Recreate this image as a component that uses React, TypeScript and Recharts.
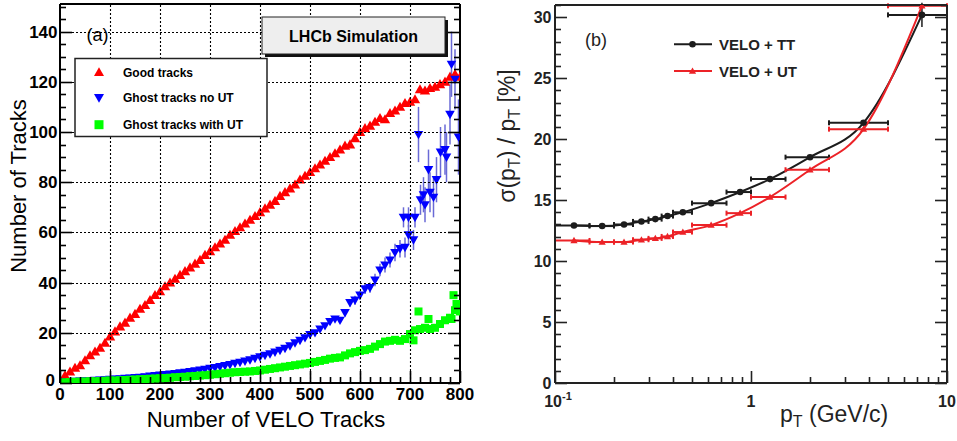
import React from "react";
import { ComposedChart, Scatter, Line, XAxis, YAxis, ErrorBar } from "recharts";

const FONT = '"Liberation Sans", Arial, Helvetica, sans-serif';

// ---------- panel (a): number of tracks vs number of VELO tracks ----------
const veloTracks = [
  10, 20, 30, 40, 50, 60, 70, 80, 90, 100, 110, 120, 130, 140, 150, 160, 170, 180, 190, 200,
  210, 220, 230, 240, 250, 260, 270, 280, 290, 300, 310, 320, 330, 340, 350, 360, 370, 380, 390, 400,
  410, 420, 430, 440, 450, 460, 470, 480, 490, 500, 510, 520, 530, 540, 550, 560, 570, 580, 590, 600,
  610, 620, 630, 640, 650, 660, 670, 680, 690, 700, 710, 720, 730, 740, 750, 760, 770, 780, 790, 800,
];
const goodTracks = [
  3, 4.5, 6, 7, 9, 11, 12.5, 14, 16, 18.5, 20.5, 22.5, 24, 26, 27.5, 29.5, 31, 33, 35, 36.5,
  38.5, 40, 41.5, 43, 44.5, 46, 47.5, 49, 51, 52.5, 54, 55.5, 57, 59, 60.5, 62, 63.5, 65, 66.5, 68,
  69.5, 71, 72.5, 74.5, 76, 77.5, 79, 81, 82.5, 84, 85.5, 87, 88.5, 90, 91.5, 93, 94.5, 95, 97.5, 100,
  101.5, 102.5, 104, 105.5, 105, 107.5, 108.5, 110, 111.5, 112, 113, 117, 116.5, 117.5, 118, 119, 120, 122, 123, 122,
];
// ghost tracks without UT: regular part (first 69 VELO bins) + scattered tail
const ghostNoUt = [
  0.5, 0.6, 0.7, 0.8, 0.9, 1.0, 1.1, 1.2, 1.3, 1.5, 1.6, 1.7, 1.9, 2.0, 2.2, 2.3, 2.5, 2.7, 2.9, 3.1,
  3.3, 3.5, 3.7, 4.0, 4.2, 4.5, 4.8, 5.1, 5.4, 5.8, 6.1, 6.5, 6.9, 7.3, 7.8, 8.2, 8.7, 9.2, 9.8, 10.4,
  11, 11.6, 12.3, 13, 13.8, 14.8, 16, 17, 18, 19.3, 20, 21.5, 22.8, 24.5, 25.5, 25, 28, 32, 33, 35,
  37.5, 38, 41, 45, 47, 49, 52, 53.5, 54,
];
const ghostNoUtErr = [
  0.2, 0.2, 0.2, 0.2, 0.2, 0.2, 0.2, 0.2, 0.2, 0.2, 0.2, 0.2, 0.2, 0.2, 0.2, 0.2, 0.2, 0.2, 0.2, 0.2,
  0.2, 0.2, 0.2, 0.2, 0.2, 0.2, 0.2, 0.2, 0.2, 0.2, 0.4, 0.4, 0.4, 0.4, 0.4, 0.4, 0.4, 0.4, 0.4, 0.4,
  0.4, 0.4, 0.4, 0.4, 0.4, 0.4, 0.4, 0.4, 0.4, 0.4, 0.8, 1, 1, 1.2, 1.2, 1.2, 1.5, 1.5, 1.8, 1.8,
  2, 2, 2.5, 2.5, 3, 3, 3.5, 3.5, 4,
];
const ghostNoUtTailX = [687, 697, 697, 707, 710, 717, 721, 727, 730, 737, 740, 747, 753, 761, 770, 773, 780, 783, 790, 797];
const ghostNoUtTailY = [66, 66, 59, 57, 66, 99, 73, 75, 71, 85, 76, 74, 81, 92, 93, 90, 107, 127, 121, 98];
const ghostNoUtTailErr = [4, 4, 4, 4, 4, 11, 6, 7, 7, 8, 8, 8, 9, 10, 10, 10, 12, 13, 12, 15];

const ghostWithUt = [
  0.3, 0.4, 0.5, 0.5, 0.6, 0.7, 0.7, 0.8, 0.9, 1.0, 1.0, 1.1, 1.2, 1.3, 1.4, 1.5, 1.6, 1.7, 1.8, 1.9,
  2.0, 2.1, 2.3, 2.4, 2.5, 2.7, 2.8, 3.0, 3.1, 3.3, 3.5, 3.7, 3.9, 4.1, 4.3, 4.4, 4.5, 4.6, 4.8, 5.0,
  5.3, 5.6, 5.9, 6.2, 6.5, 6.8, 7.1, 7.4, 7.7, 8.0, 8.4, 8.8, 9.2, 9.7, 10.0, 10.2, 11, 11.8, 12.3, 12.8,
  13.1, 13.6, 14.5, 15.5, 16.5, 16.8, 17.2, 16.8, 17.5, 19.5, 21, 21.5, 22, 21.5, 22, 23.5, 25, 26, 29, 28.5,
];
const ghostWithUtExtraX = [707, 717, 737, 783, 787, 793];
const ghostWithUtExtraY = [17, 28.5, 25.5, 25.5, 35, 31.5];

const aXTicks = [
  0, 20, 40, 60, 80, 100, 120, 140, 160, 180, 200, 220, 240, 260, 280, 300, 320, 340, 360, 380, 400,
  420, 440, 460, 480, 500, 520, 540, 560, 580, 600, 620, 640, 660, 680, 700, 720, 740, 760, 780, 800,
];
const aXMajor = [0, 100, 200, 300, 400, 500, 600, 700, 800];
const aYTicks = [
  0, 5, 10, 15, 20, 25, 30, 35, 40, 45, 50, 55, 60, 65, 70, 75, 80, 85, 90, 95, 100,
  105, 110, 115, 120, 125, 130, 135, 140, 145, 150,
];
const aYMajor = [0, 20, 40, 60, 80, 100, 120, 140];
const aXGrid = [100, 200, 300, 400, 500, 600, 700];
const aYGrid = [20, 40, 60, 80, 100, 120, 140];

// ---------- panel (b): pT resolution vs pT ----------
const ptCenter = [0.125, 0.174, 0.225, 0.276, 0.325, 0.375, 0.449, 0.626, 0.88, 1.25, 2.0, 3.75, 7.45];
const ptBinLow = [0.1, 0.15, 0.2, 0.25, 0.3, 0.35, 0.4, 0.5, 0.75, 1, 1.5, 2.5, 5];
const ptBinHigh = [0.15, 0.2, 0.25, 0.3, 0.35, 0.4, 0.5, 0.75, 1, 1.5, 2.5, 5, 10];
const resVeloTT = [12.92, 12.87, 13.0, 13.25, 13.44, 13.69, 14.0, 14.75, 15.66, 16.72, 18.52, 21.34, 30.19];
const resVeloTTErr = [0, 0, 0, 0, 0, 0, 0, 0, 0, 0, 0, 0, 1.0];
const resVeloUT = [11.69, 11.56, 11.56, 11.75, 11.86, 12.02, 12.38, 12.95, 13.93, 15.25, 17.49, 20.82, 30.93];

const bXTicks = [0.1, 0.2, 0.3, 0.4, 0.5, 0.6, 0.7, 0.8, 0.9, 1, 2, 3, 4, 5, 6, 7, 8, 9, 10];
const bXMajor = [0.1, 1, 10];
const bYTicks = [
  0, 1, 2, 3, 4, 5, 6, 7, 8, 9, 10, 11, 12, 13, 14, 15, 16, 17, 18, 19, 20,
  21, 22, 23, 24, 25, 26, 27, 28, 29, 30, 31,
];
const bYMajor = [0, 5, 10, 15, 20, 25, 30];

const RED_A = "#ff0000";
const BLUE_A = "#0000ff";
const GREEN_A = "#00ff00";
const BLACK_B = "#1c1c1c";
const RED_B = "#ec2227";

// plot box of panel (a), used only for the dotted grid drawn from the tick marks
const PLOT_A_W = 400;
const PLOT_A_H = 379;

const goodData = veloTracks.map((x, i) => ({ x, y: goodTracks[i] }));
const ghostNoUtData = [
  ...ghostNoUt.map((y, i) => ({ x: veloTracks[i], y, err: ghostNoUtErr[i] })),
  ...ghostNoUtTailX.map((x, i) => ({ x, y: ghostNoUtTailY[i], err: ghostNoUtTailErr[i] })),
];
const ghostWithUtData = [
  ...ghostWithUt.map((y, i) => ({ x: veloTracks[i], y })),
  ...ghostWithUtExtraX.map((x, i) => ({ x, y: ghostWithUtExtraY[i] })),
];
const ttData = ptCenter.map((x, i) => ({
  x,
  y: resVeloTT[i],
  ex: [x - ptBinLow[i], ptBinHigh[i] - x],
  ey: resVeloTTErr[i],
}));
const utData = ptCenter.map((x, i) => ({
  x,
  y: resVeloUT[i],
  ex: [x - ptBinLow[i], ptBinHigh[i] - x],
}));

// ---------- marker shapes ----------
const triUp = (color: string, s: number) => (p: any) => (
  <polygon
    points={`${p.cx},${p.cy - s} ${p.cx - s},${p.cy + s * 0.75} ${p.cx + s},${p.cy + s * 0.75}`}
    fill={color}
  />
);
const triDown = (color: string, s: number) => (p: any) => (
  <polygon
    points={`${p.cx},${p.cy + s} ${p.cx - s},${p.cy - s * 0.75} ${p.cx + s},${p.cy - s * 0.75}`}
    fill={color}
  />
);
const square = (color: string, s: number) => (p: any) => (
  <rect x={p.cx - s} y={p.cy - s} width={2 * s} height={2 * s} fill={color} />
);
const dot = (color: string, r: number) => (p: any) => <circle cx={p.cx} cy={p.cy} r={r} fill={color} />;

// ---------- inward ROOT-style ticks (optionally with a dotted grid line) ----------
type Side = "bottom" | "top" | "left" | "right";
type TickOpts = {
  side: Side;
  major: number[];
  majorLen: number;
  minorLen: number;
  stroke: string;
  label?: (v: number, x: number, y: number) => React.ReactNode;
  grid?: number[];
  gridLen?: number;
};
const crisp = (v: number) => Math.round(v) + 0.5;
const makeTick = (o: TickOpts) => (props: any) => {
  const { x, y, payload } = props;
  const v = payload.value as number;
  const isMajor = o.major.includes(v);
  const len = isMajor ? o.majorLen : o.minorLen;
  const vertical = o.side === "bottom" || o.side === "top";
  const cx = vertical ? crisp(x) : x;
  const cy = vertical ? y : crisp(y);
  let x2 = cx;
  let y2 = cy;
  if (o.side === "bottom") y2 = cy - len;
  else if (o.side === "top") y2 = cy + len;
  else if (o.side === "left") x2 = cx + len;
  else x2 = cx - len;
  const showGrid = !!(o.grid && o.grid.includes(v) && o.gridLen);
  const g = o.gridLen || 0;
  return (
    <g>
      {showGrid && vertical ? (
        <line x1={cx} y1={cy} x2={cx} y2={cy - g} stroke="#000" strokeWidth={1.1} strokeDasharray="2 2" />
      ) : null}
      {showGrid && !vertical ? (
        <line x1={cx} y1={cy} x2={cx + g} y2={cy} stroke="#000" strokeWidth={1.1} strokeDasharray="2 2" />
      ) : null}
      <line x1={cx} y1={cy} x2={x2} y2={y2} stroke={o.stroke} strokeWidth={1.6} />
      {isMajor && o.label ? o.label(v, x, y) : null}
    </g>
  );
};

const aXLabel = (v: number, x: number, y: number) => (
  <text x={x} y={y + 16.5} textAnchor="middle" fontFamily={FONT} fontWeight="bold" fontSize={17} fill="#000">
    {v}
  </text>
);
const aYLabel = (v: number, x: number, y: number) => (
  <text x={x - (v === 0 ? 5 : 2.5)} y={y + (v === 0 ? 3 : 6)} textAnchor="end" fontFamily={FONT} fontWeight="bold" fontSize={17} fill="#000">
    {v}
  </text>
);
const bXLabel = (v: number, x: number, y: number) =>
  v === 0.1 ? (
    <text x={x + 3} y={y + 24} textAnchor="middle" fontFamily={FONT} fontWeight="bold" fontSize={16} fill="#222">
      10
      <tspan fontSize={11} dy={-7}>-1</tspan>
    </text>
  ) : (
    <text x={x} y={y + 24} textAnchor="middle" fontFamily={FONT} fontWeight="bold" fontSize={16} fill="#222">
      {v}
    </text>
  );
const bYLabel = (v: number, x: number, y: number) => (
  <text x={x - 3.5} y={y + 5.8} textAnchor="end" fontFamily={FONT} fontWeight="bold" fontSize={16} fill="#222">
    {v}
  </text>
);

const axisA = { stroke: "#000", strokeWidth: 2 };
const axisB = { stroke: "#222", strokeWidth: 2 };

function PanelA() {
  return (
    <ComposedChart width={480} height={441} margin={{ top: 3, right: 0, bottom: 0, left: 0 }}>
      <XAxis
        dataKey="x" type="number" domain={[0, 800]} allowDataOverflow ticks={aXTicks} interval={0}
        height={58} tickSize={0} tickMargin={0} tickLine={false} axisLine={axisA}
        tick={makeTick({ side: "bottom", major: aXMajor, majorLen: 12, minorLen: 6, stroke: "#000", label: aXLabel, grid: aXGrid, gridLen: PLOT_A_H })}
      />
      <XAxis
        xAxisId="top" orientation="top" type="number" domain={[0, 800]} allowDataOverflow ticks={aXTicks}
        interval={0} height={1} tickSize={0} tickMargin={0} tickLine={false} axisLine={axisA}
        tick={makeTick({ side: "top", major: aXMajor, majorLen: 12, minorLen: 6, stroke: "#000" })}
      />
      <YAxis
        dataKey="y" type="number" domain={[0, 151]} allowDataOverflow ticks={aYTicks} interval={0}
        width={60} tickSize={0} tickMargin={0} tickLine={false} axisLine={axisA}
        tick={makeTick({ side: "left", major: aYMajor, majorLen: 12, minorLen: 6, stroke: "#000", label: aYLabel, grid: aYGrid, gridLen: PLOT_A_W })}
      />
      <YAxis
        yAxisId="right" orientation="right" type="number" domain={[0, 151]} allowDataOverflow ticks={aYTicks}
        interval={0} width={20} tickSize={0} tickMargin={0} tickLine={false} axisLine={axisA}
        tick={makeTick({ side: "right", major: aYMajor, majorLen: 12, minorLen: 6, stroke: "#000" })}
      />
      <Scatter data={goodData} dataKey="y" shape={triUp(RED_A, 5.2)} isAnimationActive={false} />
      <Scatter data={ghostNoUtData} dataKey="y" shape={triDown(BLUE_A, 4.8)} isAnimationActive={false}>
        <ErrorBar dataKey="err" direction="y" stroke="#6a6ad6" strokeWidth={1.5} width={0} isAnimationActive={false} />
      </Scatter>
      <Scatter data={ghostWithUtData} dataKey="y" shape={square(GREEN_A, 4)} isAnimationActive={false} />
    </ComposedChart>
  );
}

function PanelB() {
  return (
    <ComposedChart width={477} height={441} margin={{ top: 4, right: 9, bottom: 0, left: 0 }}>
      <XAxis
        dataKey="x" type="number" scale="log" domain={[0.1, 10]} allowDataOverflow ticks={bXTicks} interval={0}
        height={58} tickSize={0} tickMargin={0} tickLine={false} axisLine={axisB}
        tick={makeTick({ side: "bottom", major: bXMajor, majorLen: 12, minorLen: 6, stroke: "#222", label: bXLabel })}
      />
      <XAxis
        xAxisId="top" orientation="top" type="number" scale="log" domain={[0.1, 10]} allowDataOverflow
        ticks={bXTicks} interval={0} height={1} tickSize={0} tickMargin={0} tickLine={false} axisLine={axisB}
        tick={makeTick({ side: "top", major: bXMajor, majorLen: 12, minorLen: 6, stroke: "#222" })}
      />
      <YAxis
        dataKey="y" type="number" domain={[0, 31]} allowDataOverflow ticks={bYTicks} interval={0}
        width={75} tickSize={0} tickMargin={0} tickLine={false} axisLine={axisB}
        tick={makeTick({ side: "left", major: bYMajor, majorLen: 12, minorLen: 6, stroke: "#222", label: bYLabel })}
      />
      <YAxis
        yAxisId="right" orientation="right" type="number" domain={[0, 31]} allowDataOverflow ticks={bYTicks}
        interval={0} width={1} tickSize={0} tickMargin={0} tickLine={false} axisLine={axisB}
        tick={makeTick({ side: "right", major: bYMajor, majorLen: 12, minorLen: 6, stroke: "#222" })}
      />
      <Line data={ttData} dataKey="y" type="monotone" stroke={BLACK_B} strokeWidth={2} dot={false} isAnimationActive={false} />
      <Scatter data={ttData} dataKey="y" shape={dot(BLACK_B, 3.3)} isAnimationActive={false}>
        <ErrorBar dataKey="ex" direction="x" stroke={BLACK_B} strokeWidth={2} width={2.5} isAnimationActive={false} />
        <ErrorBar dataKey="ey" direction="y" stroke={BLACK_B} strokeWidth={1.5} width={0} isAnimationActive={false} />
      </Scatter>
      <Line data={utData} dataKey="y" type="monotone" stroke={RED_B} strokeWidth={2} dot={false} isAnimationActive={false} />
      <Scatter data={utData} dataKey="y" shape={triUp(RED_B, 3.6)} isAnimationActive={false}>
        <ErrorBar dataKey="ex" direction="x" stroke={RED_B} strokeWidth={2} width={2.5} isAnimationActive={false} />
      </Scatter>
    </ComposedChart>
  );
}

function Annotations() {
  const bold = { fontFamily: FONT, fontWeight: "bold" as const };
  return (
    <svg width={957} height={441} style={{ position: "absolute", left: 0, top: 0, pointerEvents: "none" }}>
      {/* panel (a) */}
      <text x={86.5} y={41} fontFamily={FONT} fontSize={18} fill="#000">(a)</text>
      <rect x={265} y={20} width={183} height={37} fill="#111" />
      <rect x={262} y={17} width={183} height={37} fill="#eeeeee" stroke="#222" strokeWidth={1} />
      <text x={353.5} y={42} textAnchor="middle" {...bold} fontSize={16} fill="#000">LHCb Simulation</text>

      <rect x={75} y={58.5} width={192} height={78} fill="#fff" stroke="#222" strokeWidth={1.5} />
      <polygon points="99,67.3 94,76 104,76" fill={RED_A} />
      <text x={123} y={76.6} {...bold} fontSize={12} fill="#000">Good tracks</text>
      <polygon points="99,102.7 94,94 104,94" fill={BLUE_A} />
      <text x={123} y={102} {...bold} fontSize={12} fill="#000">Ghost tracks no UT</text>
      <rect x={94.5} y={120.2} width={9} height={9} fill={GREEN_A} />
      <text x={123} y={129} {...bold} fontSize={12} fill="#000">Ghost tracks with UT</text>

      <text transform="translate(26,186) rotate(-90)" textAnchor="middle" fontFamily={FONT} fontSize={22} fill="#000">
        Number of Tracks
      </text>
      <text x={266} y={426.5} textAnchor="middle" fontFamily={FONT} fontSize={22} fill="#000">
        Number of VELO Tracks
      </text>

      {/* panel (b) */}
      <text x={585} y={46} fontFamily={FONT} fontSize={18} fill="#222">(b)</text>
      <line x1={674} y1={44.3} x2={712} y2={44.3} stroke={BLACK_B} strokeWidth={2} />
      <circle cx={692.5} cy={44.3} r={3.3} fill={BLACK_B} />
      <text x={719} y={50} {...bold} fontSize={15} fill="#222">VELO + TT</text>
      <line x1={674} y1={71} x2={712} y2={71} stroke={RED_B} strokeWidth={2} />
      <polygon points="692.5,67.4 688.9,73.7 696.1,73.7" fill={RED_B} />
      <text x={719} y={76.7} {...bold} fontSize={15} fill="#222">VELO + UT</text>

      <text transform="translate(515,136) rotate(-90)" textAnchor="middle" fontFamily={FONT} fontSize={23} fill="#222">
        σ(p<tspan fontSize={16} dy={5}>T</tspan>
        <tspan dy={-5}>) / p</tspan>
        <tspan fontSize={16} dy={5}>T</tspan>
        <tspan dy={-5}>{"  [%]"}</tspan>
      </text>
      <text x={780} y={422} fontFamily={FONT} fontSize={23} fill="#222">
        p<tspan fontSize={16} dy={5}>T</tspan>
        <tspan dy={-5}> (GeV/c)</tspan>
      </text>
    </svg>
  );
}

export default function App() {
  return (
    <div style={{ position: "absolute", left: 0, top: 0, width: 957, height: 441, background: "#fff", overflow: "hidden" }}>
      <div style={{ position: "absolute", left: 0, top: 0 }}>
        <PanelA />
      </div>
      <div style={{ position: "absolute", left: 480, top: 0 }}>
        <PanelB />
      </div>
      <Annotations />
    </div>
  );
}
